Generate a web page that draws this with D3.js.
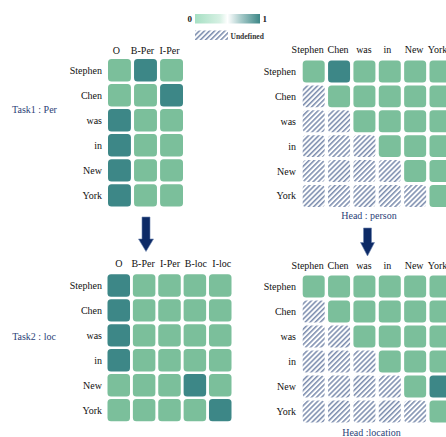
<!DOCTYPE html>
<html><head><meta charset="utf-8">
<script src="https://cdn.jsdelivr.net/npm/d3@7"></script>
<style>body{margin:0;background:#fff}svg{display:block}text{font-family:"Liberation Serif","Times New Roman",serif}</style>
</head><body>
<script>
const words = ["Stephen","Chen","was","in","New","York"];
const task1Cols = ["O","B-Per","I-Per"];
const task2Cols = ["O","B-Per","I-Per","B-loc","I-loc"];
const task1Values = [
  [0,1,0],
  [0,0,1],
  [1,0,0],
  [1,0,0],
  [1,0,0],
  [1,0,0]
];
const task2Values = [
  [1,0,0,0,0],
  [1,0,0,0,0],
  [1,0,0,0,0],
  [1,0,0,0,0],
  [0,0,0,1,0],
  [0,0,0,0,1]
];
// null = undefined (hatched)
const headPerson = [
  [0,1,0,0,0,0],
  [null,0,0,0,0,0],
  [null,null,0,0,0,0],
  [null,null,null,0,0,0],
  [null,null,null,null,0,0],
  [null,null,null,null,null,0]
];
const headLocation = [
  [0,0,0,0,0,0],
  [null,0,0,0,0,0],
  [null,null,0,0,0,0],
  [null,null,null,0,0,0],
  [null,null,null,null,0,1],
  [null,null,null,null,null,0]
];

const W=446,H=437;
const svg=d3.select("body").append("svg").attr("width",W).attr("height",H);
const defs=svg.append("defs");
const P=3.6;
const pat=defs.append("pattern").attr("id","hatch").attr("patternUnits","userSpaceOnUse")
  .attr("width",P).attr("height",P).attr("patternTransform","rotate(45)");
pat.append("rect").attr("width",P).attr("height",P).attr("fill","#fff");
pat.append("line").attr("x1",0.8).attr("y1",0).attr("x2",0.8).attr("y2",P)
  .attr("stroke","#6479a0").attr("stroke-width",1.3);

const grad=defs.append("linearGradient").attr("id","cbar");
[["0%","#a6dfc3"],["38%","#d6f0e3"],["50%","#ffffff"],["70%","#a9cccb"],["100%","#3d8787"]]
  .forEach(([o,c])=>grad.append("stop").attr("offset",o).attr("stop-color",c));

const color=d3.scaleLinear().domain([0,1]).range(["#7bbf9b","#3d8787"]);
const titleColor="#2c3f78";

function heat(opts){
  const {values,cols,x0,y0,pitchX,pitchY,cell,labelY,rowLabelX,labelDx}=opts;
  const xs=d3.scaleBand().domain(cols.map((c,i)=>i)).range([x0,x0+pitchX*cols.length]).paddingInner(1-cell/pitchX).paddingOuter(0);
  const ys=d3.scaleBand().domain(words.map((w,i)=>i)).range([y0,y0+pitchY*words.length]).paddingInner(1-cell/pitchY).paddingOuter(0);
  const g=svg.append("g");
  values.forEach((row,i)=>row.forEach((v,j)=>{
    g.append("rect").attr("x",xs(j)).attr("y",ys(i)).attr("width",xs.bandwidth()).attr("height",ys.bandwidth())
      .attr("rx",3.5).attr("ry",3.5)
      .attr("fill",v===null?"url(#hatch)":color(v));
  }));
  cols.forEach((c,j)=>g.append("text").attr("x",xs(j)+xs.bandwidth()/2+(labelDx?labelDx[j]:0)).attr("y",labelY)
    .attr("text-anchor","middle").attr("font-size",10).attr("fill","#111").text(c));
  words.forEach((w,i)=>g.append("text").attr("x",rowLabelX).attr("y",ys(i)+ys.bandwidth()/2+3.5)
    .attr("text-anchor","end").attr("font-size",10).attr("fill","#111").text(w));
}
const wordDx=[-6,-1,-0.5,-2.5,-1,-3];
heat({values:task1Values,cols:task1Cols,x0:108,y0:59,pitchX:25,pitchY:24.6,cell:22,labelY:53.5,rowLabelX:102,labelDx:[-3,-3,-2]});
heat({values:headPerson,cols:words,x0:302.7,y0:60.5,pitchX:24.8,pitchY:24.4,cell:21.5,labelY:52.5,rowLabelX:296,labelDx:wordDx});
heat({values:task2Values,cols:task2Cols,x0:107.5,y0:274.3,pitchX:24.8,pitchY:24.5,cell:22,labelY:267,rowLabelX:102,labelDx:[0,-1,0.5,1,1.5]});
heat({values:headLocation,cols:words,x0:302.7,y0:275.5,pitchX:24.8,pitchY:24.5,cell:21.5,labelY:268.5,rowLabelX:296,labelDx:wordDx});

// titles
svg.append("text").attr("x",34.5).attr("y",113).attr("text-anchor","middle").attr("font-size",10).attr("fill",titleColor).text("Task1 : Per");
svg.append("text").attr("x",34).attr("y",340).attr("text-anchor","middle").attr("font-size",10).attr("fill",titleColor).text("Task2 : loc");
svg.append("text").attr("x",369).attr("y",219).attr("text-anchor","middle").attr("font-size",10).attr("fill",titleColor).text("Head : person");
svg.append("text").attr("x",371.5).attr("y",435.5).attr("text-anchor","middle").attr("font-size",10).attr("fill",titleColor).text("Head :location");

// legend
svg.append("rect").attr("x",195).attr("y",14).attr("width",65).attr("height",9.5).attr("fill","url(#cbar)");
svg.append("text").attr("x",192).attr("y",22).attr("text-anchor","end").attr("font-size",9).attr("font-weight","bold").attr("fill","#222").text("0");
svg.append("text").attr("x",262.5).attr("y",22).attr("font-size",9).attr("font-weight","bold").attr("fill","#222").text("1");
svg.append("rect").attr("x",195).attr("y",30.5).attr("width",33).attr("height",9.5).attr("fill","url(#hatch)");
svg.append("text").attr("x",230.5).attr("y",38.5).attr("font-size",7.5).attr("font-weight","bold").attr("fill","#333").text("Undefined");

// arrows
function arrow(cx,yTop,yHeadStart,yTip,shaftW,headW){
  const p=d3.path();
  p.moveTo(cx-shaftW/2,yTop);p.lineTo(cx+shaftW/2,yTop);p.lineTo(cx+shaftW/2,yHeadStart);
  p.lineTo(cx+headW/2,yHeadStart);p.lineTo(cx,yTip);p.lineTo(cx-headW/2,yHeadStart);
  p.lineTo(cx-shaftW/2,yHeadStart);p.closePath();
  svg.append("path").attr("d",p.toString()).attr("fill","#0d2a66").attr("stroke","#6d84b0").attr("stroke-width",0.6);
}
arrow(146,217,239,251.5,8,15);
arrow(367.5,228,242.5,256,8,14);
</script>
</body></html>
